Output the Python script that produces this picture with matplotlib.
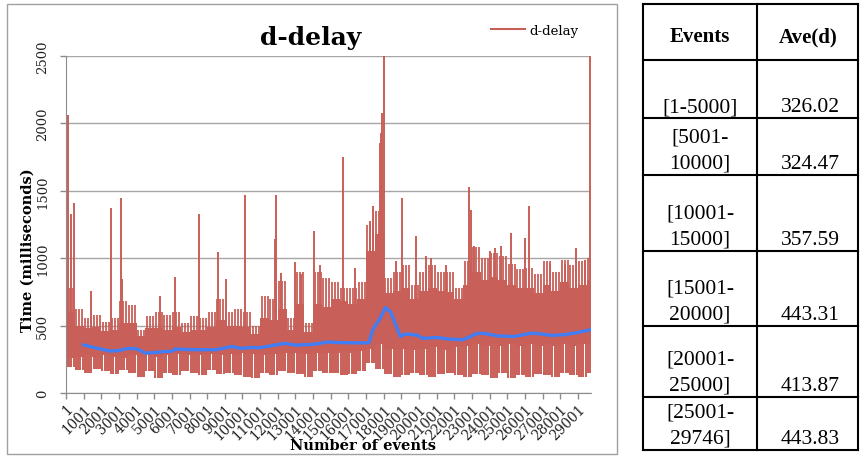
import numpy as np
import matplotlib
matplotlib.use("Agg")
import matplotlib.pyplot as plt
from matplotlib.lines import Line2D
from matplotlib.patches import Rectangle

plt.rcParams["font.family"] = ["DejaVu Serif"]

RED = "#C85F58"
BLUE = "#417DF5"
GRID = "#A6A6A6"

# ---- data --------------------------------------------------------------
n_events = 29746
bin_start = np.arange(0, n_events, 500)   # 60 bins of 500 events

# solid bottom, solid top and whisker top of the red trace for each bin
body_lo = [260, 270, 280, 270, 280, 270, 260, 280, 270, 280,
           270, 280, 290, 280, 290, 280, 290, 280, 290, 280,
           300, 290, 280, 290, 300, 290, 300, 290, 300, 300,
           300, 310, 300, 310, 330, 360, 330, 320, 330, 320,
           330, 340, 330, 320, 340, 350, 360, 350, 360, 350,
           360, 350, 360, 350, 360, 350, 360, 350, 360, 370]
body_mid = [600, 500, 480, 490, 460, 470, 520, 520, 420, 480,
            480, 470, 490, 450, 470, 470, 490, 540, 500, 500,
            490, 440, 560, 540, 620, 470, 660, 450, 660, 640,
            700, 680, 660, 700, 1050, 1180, 740, 760, 780, 700,
            760, 780, 760, 750, 700, 800, 900, 840, 860, 840,
            800, 780, 780, 740, 800, 760, 820, 780, 800, 840]
body_hi = [780, 620, 560, 580, 530, 560, 680, 650, 470, 570,
           600, 580, 600, 520, 570, 560, 600, 700, 600, 620,
           600, 500, 720, 700, 830, 560, 900, 520, 900, 850,
           820, 780, 780, 820, 1250, 1350, 850, 900, 950, 800,
           900, 950, 900, 900, 780, 980, 1080, 1000, 1040, 1020,
           960, 920, 930, 880, 980, 900, 990, 950, 980, 1000]
# lowest values (the comb under the trace)
body_dip = [190, 170, 150, 180, 160, 140, 170, 150, 120, 160,
            110, 150, 130, 160, 150, 130, 170, 140, 150, 130,
            120, 110, 150, 130, 160, 150, 140, 120, 160, 150,
            150, 130, 140, 160, 220, 180, 140, 120, 130, 150,
            130, 120, 140, 150, 130, 120, 140, 130, 110, 150,
            110, 130, 120, 140, 130, 120, 150, 130, 120, 150]

# single tall spikes
spike_x = [130, 280, 450, 1400, 2530, 3095, 3180, 5320, 6170, 7550,
           8620, 9040, 10130, 11850, 11900, 12200, 12950, 13340, 14040, 14400,
           15700, 16400, 17200, 17400, 17680, 17780, 17870, 17900, 18030, 18720,
           19060, 19850, 20420, 20700, 21550, 22830, 22950, 23100, 24050, 24320,
           24660, 25230, 25980, 26260, 27400, 28300, 28900, 29400, 29700]
spike_y = [2065, 1325, 1406, 755, 1376, 1450, 844, 718, 858, 1325,
           1043, 844, 1468, 1140, 1468, 888, 969, 880, 1201, 950,
           1751, 930, 1275, 1386, 1164, 1857, 1931, 2079, 2500, 979,
           1448, 1164, 1016, 1001, 949, 1530, 1360, 1090, 1053, 1077,
           1090, 1189, 1152, 1386, 955, 960, 1077, 990, 2500]

# moving average (blue)
avg_x = [1000, 1500, 2000, 2500, 3000, 3500, 4000, 4500, 5000, 5500,
         6000, 6200, 7000, 7600, 8500, 9400, 9900, 10500, 11000, 11800,
         12400, 13000, 13500, 14100, 14800, 15500, 16500, 17150, 17400, 17770,
         18100, 18400, 18700, 18950, 19200, 19900, 20200, 21000, 21700, 22500,
         23300, 23700, 24450, 25400, 26350, 26800, 27500, 28200, 29000, 29700]
avg_y = [357, 340, 325, 311, 315, 331, 328, 296, 300, 306,
         310, 326, 322, 321, 321, 345, 331, 338, 336, 355,
         368, 355, 358, 362, 378, 374, 372, 372, 474, 548,
         634, 600, 498, 419, 437, 430, 405, 412, 400, 395,
         442, 442, 424, 419, 444, 440, 427, 432, 449, 469]

xtick_pos = np.arange(0, 29001, 1000)
xtick_labels = [str(p + 1) for p in xtick_pos]
ytick_pos = [0, 500, 1000, 1500, 2000, 2500]

table_head = ["Events", "Ave(d)"]
table_events = ["[1-5000]", "[5001-\n10000]", "[10001-\n15000]",
                "[15001-\n20000]", "[20001-\n25000]", "[25001-\n29746]"]
table_ave = ["326.02", "324.47", "357.59", "443.31", "413.87", "443.83"]

# ---- figure ---------------------------------------------------------------
W, H = 861, 460
fig = plt.figure(figsize=(W / 100, H / 100), dpi=100)
ax = fig.add_axes([66 / W, 1 - 394 / H, 525 / W, 337 / H])

lo = np.array(body_lo)
mid = np.array(body_mid)
hi = np.array(body_hi)
dip = np.array(body_dip)

# solid body
ax.bar(bin_start, mid - lo, bottom=lo, width=500, align="edge",
       color=RED, linewidth=0, zorder=2)
# comb below and whiskers above
for off in (60, 185, 310, 435):
    ax.vlines(bin_start + off, dip, lo + 5, color=RED, lw=1.4, zorder=2)
for off in (80, 250, 420):
    ax.vlines(bin_start + off, mid - 5, hi, color=RED, lw=1.3, zorder=2)
ax.vlines(spike_x, 400, spike_y, color=RED, lw=1.4, zorder=2)

ax.plot(avg_x, avg_y, color=BLUE, lw=2.4, zorder=3)

ax.set_xlim(0, n_events)
ax.set_ylim(0, 2500)
ax.set_yticks(ytick_pos)
ax.set_xticks(xtick_pos)
ax.set_xticklabels(xtick_labels, rotation=45, ha="right",
                   rotation_mode="anchor", fontsize=9.8, color="#222222")
for lab in ax.get_yticklabels():
    lab.set_rotation(90)
    lab.set_va("center")
    lab.set_fontsize(9.5)
    lab.set_color("#222222")
ax.tick_params(axis="both", length=4, color="#8C8C8C", width=1)
ax.tick_params(axis="y", pad=8)
ax.tick_params(axis="x", pad=2)
ax.yaxis.grid(True, color=GRID, lw=1)
ax.set_axisbelow(True)
for s in ("top", "right"):
    ax.spines[s].set_visible(False)
for s in ("left", "bottom"):
    ax.spines[s].set_color("#8C8C8C")

leg_handle = Line2D([], [], color=RED, lw=1.5)
ax.legend([leg_handle], ["d-delay"], loc="upper left", frameon=False,
          fontsize=9.5, handlelength=2.6, handletextpad=0.3,
          bbox_to_anchor=(479 / W, 1 - 13 / H), bbox_transform=fig.transFigure)

# overlay in pixel coordinates for frame, titles and table
ov = fig.add_axes([0, 0, 1, 1])
ov.set_xlim(0, W)
ov.set_ylim(H, 0)
ov.axis("off")

ov.add_patch(Rectangle((7, 5), 610, 450, fill=False, edgecolor="#A0A0A0", lw=1))
ov.text(311, 38, "d-delay", ha="center", va="center", fontsize=18,
        fontweight="bold")
ov.text(363, 446, "Number of events", ha="center", va="center", fontsize=10.5,
        fontweight="bold")
ov.text(28, 250, "Time (milliseconds)", ha="center", va="center", rotation=90,
        fontsize=10.5, fontweight="bold")

# table
col_x = [643, 757, 858]
row_y = [5, 61, 119, 176, 252, 327, 398, 451]
for y in row_y:
    ov.plot([col_x[0], col_x[-1]], [y, y], color="black", lw=1.5)
for x in col_x:
    ov.plot([x, x], [row_y[0], row_y[-1]], color="black", lw=1.5)

tfont = "Liberation Serif"
ov.text(700, 37, table_head[0], ha="center", va="center", fontsize=15,
        fontweight="bold", family=tfont)
ov.text(808, 37, table_head[1], ha="center", va="center", fontsize=15,
        fontweight="bold", family=tfont)
for i, (ev, av) in enumerate(zip(table_events, table_ave)):
    base = row_y[i + 2] - 7
    lines = ev.split("\n")
    for j, line in enumerate(reversed(lines)):
        ov.text(700, base - 26 * j, line, ha="center", va="baseline",
                fontsize=15.5, family=tfont)
    ov.text(810, base, av, ha="center", va="baseline", fontsize=15.5,
            family=tfont)

fig.savefig("out.png", dpi=100)
